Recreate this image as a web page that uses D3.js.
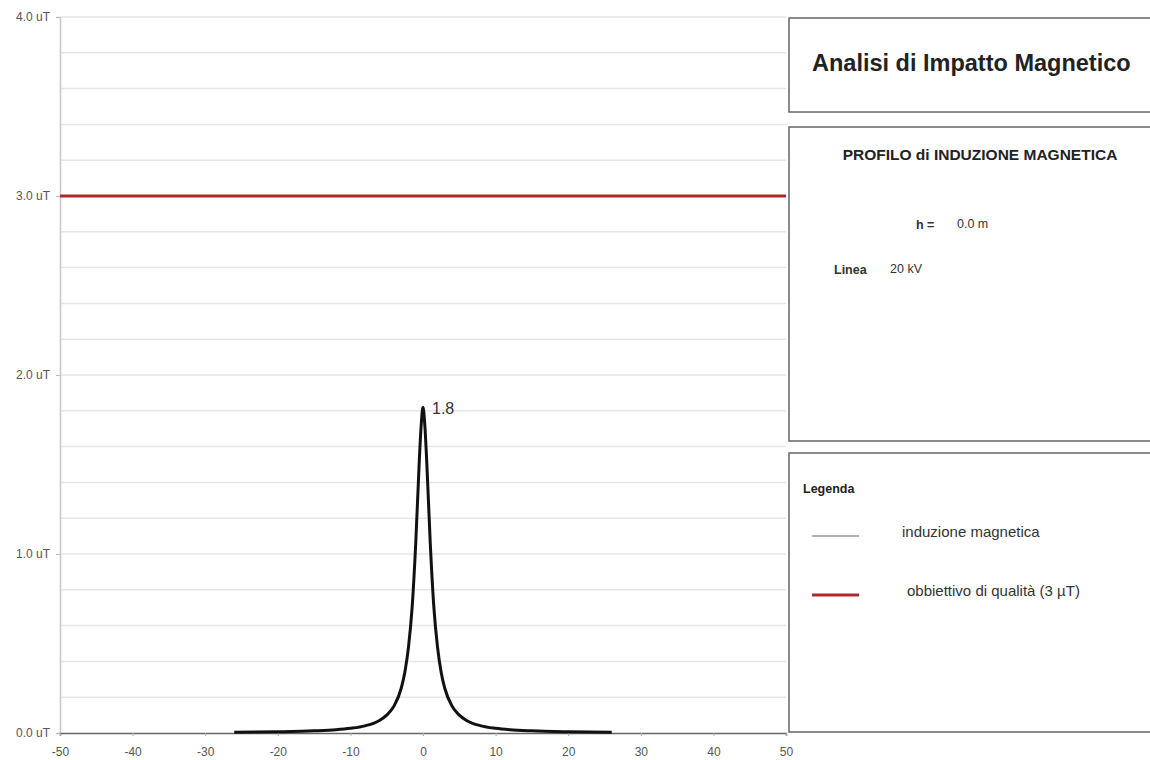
<!DOCTYPE html>
<html>
<head>
<meta charset="utf-8">
<script src="https://cdn.jsdelivr.net/npm/d3@7"></script>
<style>
	body { margin: 0; background: #fff; }
	svg { display: block; font-family: 'Liberation Sans', Arial, sans-serif; }
</style>
</head>
<body>
<div id="chart"></div>
<script>
// distance from the line axis (m) and magnetic induction (uT)
const distances = [ -26, -20, -15, -12, -10, -8, -6, -5, -4, -3, -2.5, -2, -1.5, -1, -0.5, -0.25, 0, 0.25, 0.5, 1, 1.5, 2, 2.5, 3, 4, 5, 6, 8, 10, 12, 15, 20, 26 ];
const induction = [ 0.004, 0.007, 0.012, 0.018, 0.026, 0.04, 0.07, 0.1, 0.15, 0.25, 0.34, 0.48, 0.7, 1.06, 1.53, 1.72, 1.82, 1.72, 1.53, 1.06, 0.7, 0.48, 0.34, 0.25, 0.15, 0.1, 0.07, 0.04, 0.026, 0.018, 0.012, 0.007, 0.004 ];

const qualityTarget = 3; // obbiettivo di qualità
const peakLabel = '1.8';

const xTicks = [ -50, -40, -30, -20, -10, 0, 10, 20, 30, 40, 50 ];
const yTicks = [ 0, 1, 2, 3, 4 ];
const yTickLabels = [ '0.0 uT', '1.0 uT', '2.0 uT', '3.0 uT', '4.0 uT' ];

const legendLabels = [ 'induzione magnetica', 'obbiettivo di qualità (3 µT)' ];

const width = 1150;
const height = 760;
const red = '#b3262c';

const svg = d3.select( '#chart' )
	.append( 'svg' )
	.attr( 'width', width )
	.attr( 'height', height );

const x = d3.scaleLinear().domain( [ -50, 50 ] ).range( [ 60, 786 ] );
const y = d3.scaleLinear().domain( [ 0, 4 ] ).range( [ 733, 17 ] );

// gridlines every 0.2 uT
svg.append( 'g' )
	.selectAll( 'line' )
	.data( y.ticks( 20 ).filter( ( d ) => d > 0 ) )
	.enter()
	.append( 'line' )
	.attr( 'x1', x( -50 ) )
	.attr( 'x2', x( 50 ) )
	.attr( 'y1', ( d ) => y( d ) )
	.attr( 'y2', ( d ) => y( d ) )
	.attr( 'stroke', '#e6e6e6' )
	.attr( 'stroke-width', 1.5 );

// y axis
const yAxis = svg.append( 'g' )
	.attr( 'transform', `translate(${ x( -50 ) },0)` )
	.call( d3.axisLeft( y )
		.tickValues( yTicks )
		.tickFormat( ( d, i ) => yTickLabels[ i ] )
		.tickSize( 4 )
		.tickPadding( 6 ) );
yAxis.select( '.domain' ).attr( 'stroke', '#c8c8c8' ).attr( 'stroke-width', 1.5 );
yAxis.selectAll( '.tick line' ).attr( 'stroke', '#bbb' );
yAxis.selectAll( 'text' )
	.style( 'font-size', '12px' )
	.style( 'fill', '#555' );

// x axis
const xAxis = svg.append( 'g' )
	.attr( 'transform', `translate(0,${ y( 0 ) })` )
	.call( d3.axisBottom( x )
		.tickValues( xTicks )
		.tickFormat( ( d ) => String( d ) )
		.tickSize( 3 )
		.tickPadding( 11 ) );
xAxis.select( '.domain' ).attr( 'stroke', '#666' ).attr( 'stroke-width', 1.5 );
xAxis.selectAll( '.tick line' ).attr( 'stroke', '#aaa' );
xAxis.selectAll( 'text' )
	.style( 'font-size', '12px' )
	.style( 'fill', '#555' );

// quality target
svg.append( 'line' )
	.attr( 'x1', x( -50 ) )
	.attr( 'x2', x( 50 ) )
	.attr( 'y1', y( qualityTarget ) )
	.attr( 'y2', y( qualityTarget ) )
	.attr( 'stroke', red )
	.attr( 'stroke-width', 3 );

// induction profile
const points = distances.map( ( d, i ) => ( { d, b: induction[ i ] } ) );
const line = d3.line()
	.x( ( p ) => x( p.d ) )
	.y( ( p ) => y( p.b ) )
	.curve( d3.curveMonotoneX );

svg.append( 'path' )
	.datum( points )
	.attr( 'd', line )
	.attr( 'fill', 'none' )
	.attr( 'stroke', '#111' )
	.attr( 'stroke-width', 3 );

const peak = points.reduce( ( a, b ) => ( b.b > a.b ? b : a ) );
svg.append( 'text' )
	.attr( 'x', x( peak.d ) + 9 )
	.attr( 'y', y( peak.b ) + 7 )
	.text( peakLabel )
	.style( 'font-size', '16px' )
	.style( 'fill', '#333' );

// right hand panels
const panels = [
	{ top: 18, bottom: 112 },
	{ top: 127, bottom: 441 },
	{ top: 453, bottom: 732 },
];
svg.append( 'g' )
	.selectAll( 'rect' )
	.data( panels )
	.enter()
	.append( 'rect' )
	.attr( 'x', 789 )
	.attr( 'y', ( d ) => d.top )
	.attr( 'width', 400 )
	.attr( 'height', ( d ) => d.bottom - d.top )
	.attr( 'fill', '#fff' )
	.attr( 'stroke', '#666' )
	.attr( 'stroke-width', 1.5 );

svg.append( 'text' )
	.attr( 'x', 812 )
	.attr( 'y', 71 )
	.text( 'Analisi di Impatto Magnetico' )
	.style( 'font-size', '23.5px' )
	.style( 'font-weight', 'bold' )
	.style( 'fill', '#222' );

svg.append( 'text' )
	.attr( 'x', 980 )
	.attr( 'y', 160 )
	.attr( 'text-anchor', 'middle' )
	.text( 'PROFILO di INDUZIONE MAGNETICA' )
	.style( 'font-size', '15.5px' )
	.style( 'font-weight', 'bold' )
	.style( 'fill', '#222' );

const info = svg.append( 'g' ).style( 'font-size', '12.5px' ).style( 'fill', '#333' );
info.append( 'text' ).attr( 'x', 916 ).attr( 'y', 229 ).text( 'h =' ).style( 'font-weight', 'bold' );
info.append( 'text' ).attr( 'x', 957 ).attr( 'y', 228 ).text( '0.0 m' );
info.append( 'text' ).attr( 'x', 834 ).attr( 'y', 274 ).text( 'Linea' ).style( 'font-weight', 'bold' );
info.append( 'text' ).attr( 'x', 890 ).attr( 'y', 273 ).text( '20 kV' );

// legend
const legend = svg.append( 'g' );
legend.append( 'text' )
	.attr( 'x', 803 )
	.attr( 'y', 493 )
	.text( 'Legenda' )
	.style( 'font-size', '12.5px' )
	.style( 'font-weight', 'bold' )
	.style( 'fill', '#222' );

const legendItems = [
	{ label: legendLabels[ 0 ], color: '#666', width: 1.2, y: 536, tx: 902 },
	{ label: legendLabels[ 1 ], color: red, width: 3, y: 595, tx: 907 },
];
legendItems.forEach( ( item ) => {
	legend.append( 'line' )
		.attr( 'x1', 812 )
		.attr( 'x2', 859 )
		.attr( 'y1', item.y )
		.attr( 'y2', item.y )
		.attr( 'stroke', item.color )
		.attr( 'stroke-width', item.width );
	legend.append( 'text' )
		.attr( 'x', item.tx )
		.attr( 'y', item.y + 1 )
		.text( item.label )
		.style( 'font-size', '15px' )
		.style( 'fill', '#333' );
} );
</script>
</body>
</html>
